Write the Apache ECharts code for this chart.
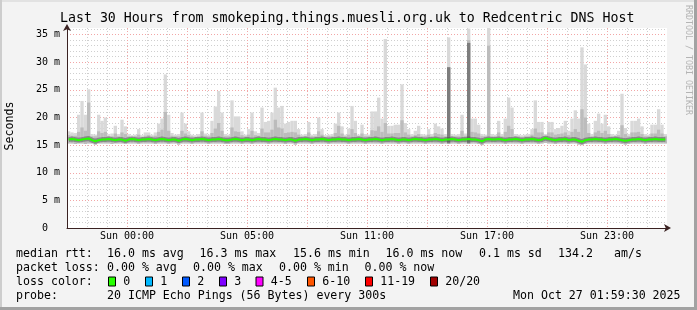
<!DOCTYPE html>
<html><head><meta charset="utf-8">
<script src="https://cdn.jsdelivr.net/npm/echarts@6/dist/echarts.min.js"></script>
<style>html,body{margin:0;padding:0;background:#f3f3f3}#c{width:697px;height:310px}</style>
</head><body><div id="c"></div>
<script>
// ---------- DATA (10-minute steps over 30 hours, 180 steps) ----------
const smokeMax = [
17.5,17.3,17.2,20.5,23.0,20.5,25.1,17.0,16.9,20.5,
19.4,20.0,17.0,17.1,18.5,17.0,19.6,18.4,17.0,16.8,
16.9,17.9,16.8,17.3,17.3,16.9,17.3,18.9,19.8,27.8,
20.5,17.2,16.9,17.0,20.9,18.9,17.5,16.9,16.8,17.0,
20.9,17.1,16.9,19.4,22.0,24.8,20.9,17.0,16.9,23.1,
20.2,20.2,17.5,16.9,17.9,20.9,17.5,17.2,21.8,19.2,
19.4,20.9,25.4,21.8,22.1,18.9,19.2,19.4,19.4,17.9,
16.9,17.0,19.2,16.9,17.0,20.0,17.9,16.8,16.9,17.0,
18.9,20.9,18.4,16.9,18.0,22.1,19.4,16.9,18.7,17.0,
16.9,21.1,21.1,23.6,19.8,34.2,18.5,18.5,18.7,18.7,
26.0,19.0,17.9,17.0,17.6,18.5,17.0,16.9,17.9,17.0,
18.9,18.4,18.0,17.0,34.5,17.0,16.9,17.0,20.5,17.1,
36.1,19.8,19.8,18.7,17.0,16.9,36.4,17.0,16.9,19.4,
17.0,19.8,23.6,21.8,17.0,16.9,16.8,16.9,17.0,17.9,
23.1,19.2,19.2,17.0,19.2,19.2,17.9,18.1,18.5,19.4,
17.6,19.8,21.3,19.8,32.7,29.6,18.9,17.0,19.4,20.7,
18.9,20.5,18.4,17.0,16.9,17.6,24.3,18.1,17.0,19.4,
19.4,19.8,18.4,17.0,16.9,18.7,18.7,21.5,18.7,17.0];
const smokeMid = [
16.8,16.7,16.7,17.4,18.2,17.6,22.7,16.6,16.6,17.5,
17.2,17.4,16.6,16.6,17.1,16.6,17.3,17.0,16.6,16.5,
16.6,16.9,16.5,16.7,16.8,16.6,16.7,17.4,17.8,21.0,
17.6,16.7,16.6,16.6,17.6,17.1,16.8,16.6,16.5,16.6,
17.5,16.7,16.6,17.2,18.0,19.0,17.6,16.6,16.6,18.2,
17.5,17.4,16.8,16.6,16.9,17.6,16.8,16.7,18.0,17.3,
17.3,17.8,19.6,18.2,18.0,17.2,17.3,17.4,17.3,16.9,
16.6,16.6,17.3,16.6,16.6,17.5,16.9,16.5,16.6,16.6,
17.2,18.5,17.1,16.6,16.9,17.9,17.2,16.6,17.1,16.6,
16.6,17.7,17.6,18.4,17.4,19.0,17.1,17.1,17.2,17.2,
19.5,17.3,16.9,16.6,16.8,17.0,16.6,16.6,16.9,16.6,
17.2,17.0,16.9,16.6,29.1,16.6,16.6,16.6,17.6,16.7,
34.0,17.4,17.3,17.1,16.6,16.6,33.0,16.6,16.6,17.3,
16.6,17.4,18.5,17.9,16.6,16.6,16.5,16.6,16.6,16.9,
18.0,17.3,17.3,16.6,17.3,17.3,16.9,17.0,17.1,17.3,
16.8,17.4,17.9,17.4,21.5,20.0,17.2,16.6,17.3,17.6,
17.2,17.6,17.0,16.6,16.6,16.8,18.6,17.0,16.6,17.3,
17.3,17.4,17.0,16.6,16.6,17.1,17.1,17.8,17.1,16.6];
const smokeMin = [
15.3,15.3,15.2,15.3,15.3,15.2,15.3,15.3,15.1,15.3,
15.3,15.3,15.3,15.2,15.3,15.3,15.3,15.2,15.3,15.3,
15.3,15.2,15.3,15.3,15.3,15.3,15.2,15.3,15.3,15.3,
15.2,15.3,15.3,15.1,15.3,15.3,15.3,15.2,15.3,15.3,
15.3,15.3,15.2,15.3,15.3,15.3,15.3,15.2,15.2,15.3,
15.3,15.3,15.2,15.3,15.3,15.2,15.3,15.3,15.3,15.3,
15.2,15.3,15.3,15.3,15.3,15.2,15.3,15.3,15.1,15.3,
15.3,15.3,15.3,15.2,15.3,15.3,15.3,15.3,15.2,15.3,
15.3,15.3,15.3,15.3,15.2,15.3,15.3,15.3,15.3,15.2,
15.3,15.3,15.3,15.3,15.2,15.3,15.3,15.3,15.3,15.2,
15.3,15.3,15.2,15.3,15.3,15.3,15.3,15.2,15.3,15.3,
15.3,15.3,15.2,15.3,15.3,15.3,15.3,15.2,15.3,15.3,
15.3,15.3,15.3,15.2,15.0,15.3,15.3,15.3,15.3,15.3,
15.3,15.2,15.3,15.3,15.3,15.3,15.2,15.3,15.3,15.3,
15.3,15.2,15.3,15.4,15.3,15.3,15.2,15.3,15.3,15.3,
15.2,15.3,15.3,15.1,15.0,15.2,15.3,15.3,15.3,15.3,
15.3,15.2,15.3,15.3,15.3,15.3,15.2,15.1,15.2,15.3,
15.3,15.3,15.3,15.2,15.3,15.3,15.3,15.3,15.3,15.3];
const medianRtt = [
16.0,16.1,16.0,15.9,16.0,16.1,16.2,15.9,15.7,15.9,
16.0,16.0,16.1,16.0,15.9,16.0,16.0,15.8,16.0,16.1,
16.0,15.9,16.0,16.0,16.1,16.0,15.9,16.0,16.1,16.0,
15.9,16.0,16.0,15.8,16.0,16.1,16.0,15.9,16.0,16.0,
16.1,16.0,15.9,16.0,16.0,16.1,16.0,15.9,15.9,16.0,
16.1,16.0,15.9,16.0,16.0,15.9,16.0,16.1,16.0,16.0,
15.9,16.0,16.1,16.0,16.0,15.9,16.0,16.0,15.8,16.0,
16.0,16.1,16.0,15.9,16.0,16.0,16.1,16.0,15.9,16.0,
16.0,16.1,16.0,16.0,15.9,16.0,16.0,16.1,16.0,15.9,
16.0,16.0,16.1,16.0,15.9,16.0,16.0,16.1,16.0,15.9,
16.0,16.0,15.9,16.0,16.1,16.0,16.0,15.9,16.0,16.0,
16.1,16.0,15.9,16.0,16.0,16.1,16.0,15.9,16.0,16.0,
16.1,16.0,16.0,15.9,15.7,16.0,16.1,16.0,16.0,16.1,
16.0,15.9,16.0,16.0,16.1,16.0,15.9,16.0,16.0,16.1,
16.0,15.9,16.0,16.3,16.1,16.0,15.9,16.0,16.0,16.1,
15.9,16.0,16.0,15.8,15.6,15.9,16.0,16.0,16.1,16.0,
16.0,15.9,16.0,16.0,16.1,16.0,15.9,15.8,15.9,16.0,
16.0,16.1,16.0,15.9,16.0,16.0,16.1,16.0,16.0,16.0];
const darkSpikeIndex = [114, 120];
const darkSpikeTop = [29.1, 33.5];

const tickHours = [3, 9, 15, 21, 27];
const tickLabels = ['Sun 00:00', 'Sun 05:00', 'Sun 11:00', 'Sun 17:00', 'Sun 23:00'];

const titleText = 'Last 30 Hours from smokeping.things.muesli.org.uk to Redcentric DNS Host';
const yAxisTitle = 'Seconds';
const watermark = 'RRDTOOL / TOBI OETIKER';
const rttRow = ['median rtt:', '16.0 ms avg', '16.3 ms max', '15.6 ms min', '16.0 ms now', '0.1 ms sd', '134.2', 'am/s'];
const lossRow = ['packet loss:', '0.00 % avg', '0.00 % max', '0.00 % min', '0.00 % now'];
const lossColorTitle = 'loss color:';
const lossLabels = ['0', '1', '2', '3', '4-5', '6-10', '11-19', '20/20'];
const lossColors = ['#26ff00', '#00b8ff', '#0059ff', '#7e00ff', '#ff00ff', '#ff5500', '#ff0000', '#a00000'];
const probeRow = ['probe:', '20 ICMP Echo Pings (56 Bytes) every 300s', 'Mon Oct 27 01:59:30 2025'];

// ---------- LAYOUT ----------
const MONO = "'DejaVu Sans Mono', monospace";
const FS = 11.6;
const rttX = [16, 107, 199.5, 293, 385.5, 479, 558, 614];
const lossX = [16, 107, 193, 279, 364.5];
const probeX = [16, 107, 513];
const boxX = [108.5, 145.5, 182.5, 219.5, 256, 307.5, 365.5, 430.5];
const rowY = [254, 268, 281.5, 295.8];

const steps = smokeMax.map((_, i) => i);

const graphic = [];
function txt(x, y, s, extra) {
  graphic.push({type: 'text', x: x, y: y, silent: true,
    style: Object.assign({text: s, font: FS + 'px ' + MONO, fill: '#000', textVerticalAlign: 'middle', textAlign: 'left'}, extra || {})});
}
// frame
graphic.push({type: 'rect', shape: {x: 0, y: 0, width: 697, height: 2}, style: {fill: '#e2e2e2'}, silent: true});
graphic.push({type: 'rect', shape: {x: 0, y: 0, width: 2, height: 310}, style: {fill: '#cdcdcd'}, silent: true});
graphic.push({type: 'rect', shape: {x: 694, y: 0, width: 3, height: 310}, style: {fill: '#a2a2a2'}, silent: true});
graphic.push({type: 'rect', shape: {x: 0, y: 307, width: 697, height: 3}, style: {fill: '#a2a2a2'}, silent: true});
// title
graphic.push({type: 'text', x: 60, y: 19, silent: true, style: {text: titleText, font: '13.25px ' + MONO, fill: '#000', textVerticalAlign: 'middle'}});
// y title
graphic.push({type: 'text', x: 10, y: 126, rotation: Math.PI / 2, silent: true, style: {text: yAxisTitle, font: FS + 'px ' + MONO, fill: '#000', textAlign: 'center', textVerticalAlign: 'middle'}});
// watermark
graphic.push({type: 'text', x: 688, y: 5, rotation: -Math.PI / 2, silent: true, style: {text: watermark, font: '8.3px ' + MONO, fill: '#b4b4b4', textAlign: 'left', textVerticalAlign: 'middle'}});
rttRow.forEach((s, k) => txt(rttX[k], rowY[0], s));
lossRow.forEach((s, k) => txt(lossX[k], rowY[1], s));
txt(16, rowY[2], lossColorTitle);
lossLabels.forEach((s, k) => {
  graphic.push({type: 'rect', shape: {x: boxX[k], y: rowY[2] - 4.5, width: 7, height: 9}, silent: true,
    style: {fill: lossColors[k], stroke: '#000', lineWidth: 1}});
  txt(boxX[k] + 14.7, rowY[2], s);
});
probeRow.forEach((s, k) => txt(probeX[k], rowY[3], s));

// ---------- SERIES (on a hidden category axis of time steps) ----------
const CAT = 3;
const bar = (name, stack, data, color) => ({name: name, type: 'bar', xAxisIndex: CAT, yAxisIndex: 0, stack: stack, data: data,
  barWidth: '100%', barGap: '-100%', barCategoryGap: '0%', itemStyle: {color: color}, silent: true, animation: false});

const lightData = smokeMax.map((v, i) => +(v - smokeMin[i]).toFixed(2));
const midData = smokeMid.map((v, i) => +(v - smokeMin[i]).toFixed(2));
const darkBase = steps.map(i => { const k = darkSpikeIndex.indexOf(i); return k >= 0 ? smokeMin[i] : 0; });
const darkData = steps.map(i => { const k = darkSpikeIndex.indexOf(i); return k >= 0 ? +(darkSpikeTop[k] - smokeMin[i]).toFixed(2) : 0; });

const series = [
  bar('b1', 'light', smokeMin, 'rgba(0,0,0,0)'),
  bar('smoke', 'light', lightData, '#d9d9d9'),
  bar('b2', 'mid', smokeMin, 'rgba(0,0,0,0)'),
  bar('smoke2', 'mid', midData, '#bcbcbc'),
  bar('b3', 'dark', darkBase, 'rgba(0,0,0,0)'),
  bar('smoke3', 'dark', darkData, '#7d7d7d'),
  {name: 'core', type: 'line', xAxisIndex: CAT, step: 'middle', data: medianRtt, showSymbol: false, silent: true, animation: false,
    lineStyle: {color: 'rgba(70,70,70,0.45)', width: 5}},
  {name: 'median', type: 'line', xAxisIndex: CAT, step: 'middle', data: medianRtt, showSymbol: false, silent: true, animation: false,
    lineStyle: {color: '#26ff00', width: 2}}
];

const minorGrid = {show: true, showMinLine: false, showMaxLine: false, lineStyle: {color: '#cfcfcf', type: [1, 2], width: 1}};
const majorGrid = {show: true, showMinLine: false, showMaxLine: false, lineStyle: {color: '#f2a6a6', type: [1, 2], width: 1}};
const axisLineStyle = {show: true, onZero: false, symbol: ['none', 'arrow'], symbolSize: [6, 7], symbolOffset: [0, 4],
  lineStyle: {color: '#3a2222', width: 1}};
const bare = {axisTick: {show: false}, axisLabel: {show: false}};

const option = {
  backgroundColor: '#f3f3f3',
  animation: false,
  grid: {left: 67, right: 30, top: 28, bottom: 82, show: true, backgroundColor: '#ffffff', borderWidth: 0},
  xAxis: [
    Object.assign({type: 'value', position: 'bottom', min: 0, max: 30, interval: 1,
      axisLine: {show: false}, splitLine: minorGrid}, bare),
    {type: 'value', position: 'bottom', min: 0, max: 30, interval: 3,
      axisLine: {show: false}, axisTick: {show: false},
      axisLabel: {margin: 3, fontFamily: MONO, fontSize: 10, color: '#000',
        formatter: v => { const k = tickHours.indexOf(v); return k >= 0 ? tickLabels[k] : ''; }},
      splitLine: majorGrid},
    Object.assign({type: 'value', position: 'bottom', min: 0, max: 30, z: 5,
      axisLine: axisLineStyle, splitLine: {show: false}}, bare),
    {type: 'category', position: 'bottom', data: steps, boundaryGap: true, show: false}
  ],
  yAxis: [
    Object.assign({type: 'value', position: 'left', min: 0, max: 36.2, interval: 1,
      axisLine: {show: false}, splitLine: minorGrid}, bare),
    {type: 'value', position: 'left', min: 0, max: 36.2, interval: 5,
      axisLine: {show: false}, axisTick: {show: false},
      axisLabel: {margin: 7, fontFamily: MONO, fontSize: 10, color: '#000', showMaxLabel: false,
        formatter: v => (v % 5 !== 0 ? '' : (v === 0 ? '0  ' : v + ' m'))},
      splitLine: majorGrid},
    Object.assign({type: 'value', position: 'left', min: 0, max: 36.2, z: 5,
      axisLine: axisLineStyle, splitLine: {show: false}}, bare)
  ],
  series: series,
  graphic: graphic
};

const chart = echarts.init(document.getElementById('c'), null, {renderer: 'canvas'});
chart.setOption(option);
</script>
</body></html>
